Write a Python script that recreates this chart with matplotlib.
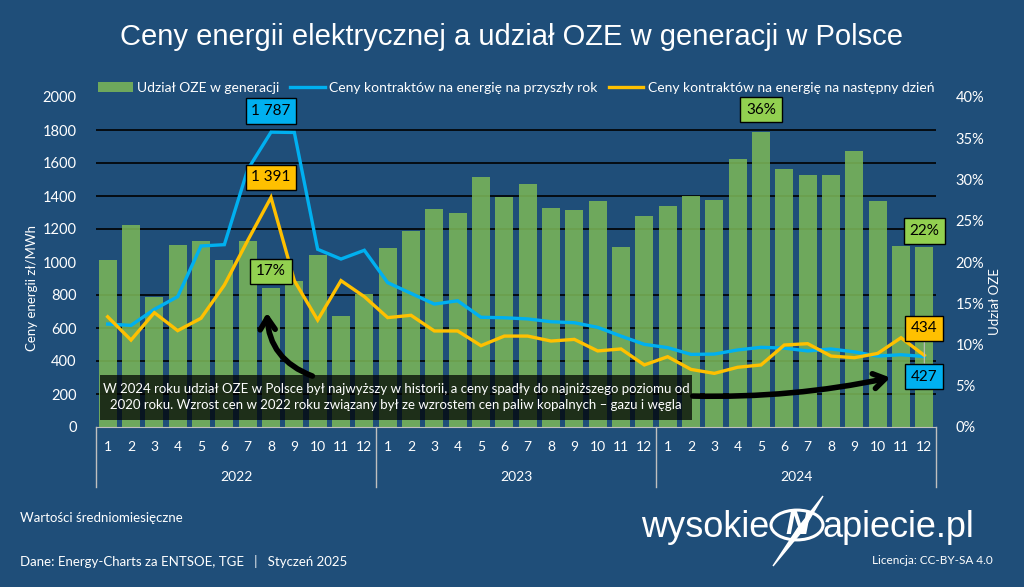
import matplotlib.pyplot as plt
import matplotlib.transforms as mtransforms
from matplotlib.patches import Rectangle, FancyArrowPatch, Circle, Polygon

years = ["2022", "2023", "2024"]
months = [str(m) for m in range(1, 13)] * 3

# udzial OZE w generacji [%]
oze_share = [20.2, 24.5, 15.7, 22.1, 22.6, 20.3, 22.6, 16.8, 17.7, 20.8, 13.5, 16.1,
             21.7, 23.8, 26.4, 26.0, 30.3, 27.9, 29.5, 26.5, 26.3, 27.4, 21.8, 25.6,
             26.8, 28.0, 27.5, 32.5, 35.8, 31.3, 30.6, 30.6, 33.4, 27.4, 22.0, 21.8]
# ceny kontraktow na przyszly rok [zl/MWh]
price_year_ahead = [624, 616, 713, 790, 1097, 1105, 1560, 1787, 1785, 1077, 1018, 1071,
                    875, 810, 745, 765, 665, 662, 655, 638, 632, 604, 551, 501,
                    481, 440, 442, 467, 483, 478, 461, 473, 455, 430, 438, 427]
# ceny kontraktow na nastepny dzien [zl/MWh]
price_day_ahead = [668, 527, 693, 584, 659, 860, 1130, 1391, 887, 648, 887, 790,
                   663, 677, 582, 582, 493, 551, 551, 521, 531, 461, 473, 376,
                   426, 349, 325, 362, 376, 497, 505, 430, 420, 446, 541, 434]

BG = "#1F4E79"
GREEN = "#7AB558"
BLUE = "#00B0F0"
YELLOW = "#FFC000"
LABEL_GREEN = "#92D050"
FONT = ["Lato", "DejaVu Sans"]

plt.rcParams["font.family"] = FONT

W, H = 1024, 587
fig = plt.figure(figsize=(W / 100, H / 100), dpi=100, facecolor=BG)


def fx(px):
    return px / W


def fy(py):
    return 1 - py / H


ax = fig.add_axes([fx(96), fy(427), 840 / W, 330 / H])
ax.set_facecolor(BG)
x = list(range(len(oze_share)))
ax.bar(x, oze_share, width=0.77, color=GREEN, alpha=0.88, zorder=2,
       label="Udział OZE w generacji")
ax.set_xlim(-0.5, len(x) - 0.5)
ax.set_ylim(0, 40)
# siatka co 200 zl/MWh = co 4 % (pod slupkami)
ax.set_yticks(range(0, 41, 4), minor=True)
ax.grid(axis="y", which="minor", color="black", linewidth=1.2)
ax.grid(axis="y", which="major", visible=False)
ax.tick_params(axis="y", which="minor", length=0)
ax.set_xticks(x)
ax.set_xticklabels(months)
ax.tick_params(axis="x", colors="white", labelsize=10, length=0, pad=10)
for s in ["top", "left", "right"]:
    ax.spines[s].set_visible(False)
ax.spines["bottom"].set_color("#BFBFBF")

# linie cen na drugiej osi (po lewej stronie)
axp = ax.twinx()
axp.yaxis.tick_left()
axp.set_ylim(0, 2000)
axp.set_yticks(range(0, 2001, 200))
axp.tick_params(axis="y", colors="white", labelsize=10.5, length=0, pad=14)
for s in axp.spines.values():
    s.set_visible(False)
axp.plot(x, price_year_ahead, color=BLUE, linewidth=2.4, solid_joinstyle="miter",
         label="Ceny kontraktów na energię na przyszły rok")
axp.plot(x, price_day_ahead, color=YELLOW, linewidth=2.4, solid_joinstyle="miter",
         label="Ceny kontraktów na energię na następny dzień")

# os procentowa po prawej (twinx przestawia ja na lewo, wiec ustawiamy po nim)
ax.yaxis.tick_right()
ax.set_yticks(range(0, 41, 5))
ax.set_yticklabels([f"{v}%" for v in range(0, 41, 5)])
ax.tick_params(axis="y", which="major", colors="white", labelsize=10.5, length=0, pad=14)

# separatory lat i etykiety lat
trans = mtransforms.blended_transform_factory(ax.transData, ax.transAxes)
for b in [-0.5, 11.5, 23.5, 35.5]:
    ax.plot([b, b], [0, -60 / 330], color="#BFBFBF", linewidth=1, transform=trans, clip_on=False)
for i, yr in enumerate(years):
    ax.text(i * 12 + 5.5, -50 / 330, yr, transform=trans, ha="center", va="center",
            color="white", fontsize=10)

# etykiety wartosci
box_kw = dict(boxstyle="square,pad=0.38", ec="black", lw=1)


def price_label(idx, series, txt, color, dy, leader=False):
    arrow = dict(arrowstyle="-", color="#BFBFBF", lw=0.8, shrinkA=0, shrinkB=0) if leader else None
    axp.annotate(txt, xy=(idx, series[idx]), xytext=(0, dy), textcoords="offset pixels",
                 ha="center", va="center", fontsize=11, color="black",
                 bbox=dict(box_kw, fc=color), arrowprops=arrow, zorder=6)


price_label(7, price_year_ahead, "1 787", BLUE, 21)
price_label(7, price_day_ahead, "1 391", YELLOW, 20)
price_label(35, price_day_ahead, "434", YELLOW, 27, leader=True)
price_label(35, price_year_ahead, "427", BLUE, -20, leader=True)

for idx, dy in [(7, 17), (28, 22), (35, 16)]:
    axp.annotate(f"{oze_share[idx]:.0f}%", xy=(idx, oze_share[idx] * 50), xytext=(0, dy),
                 textcoords="offset pixels", ha="center", va="center", fontsize=11,
                 color="black", bbox=dict(box_kw, fc=LABEL_GREEN), zorder=6)

# legenda
handles = ax.get_legend_handles_labels()[0] + axp.get_legend_handles_labels()[0]
fig.legend(handles=handles, loc="center", bbox_to_anchor=(fx(516), fy(88)), ncol=3,
           frameon=False, fontsize=10, labelcolor="white", handlelength=2.5,
           handletextpad=0.3, columnspacing=0.8)

# tytul
fig.text(0.5, fy(37), "Ceny energii elektrycznej a udział OZE w generacji w Polsce",
         ha="center", va="center", color="white", fontsize=21, family="Liberation Sans")

# opisy osi
fig.text(fx(32), fy(288), "Ceny energii zł/MWh", rotation=90, ha="center", va="center",
         color="white", fontsize=9.5)
fig.text(fx(995), fy(302), "Udział OZE", rotation=90, ha="center", va="center",
         color="white", fontsize=9.5)

# ramka z komentarzem
fig.patches.append(Rectangle((fx(100), fy(420)), fx(592), 45 / H, transform=fig.transFigure,
                             fc="black", alpha=0.72, ec="none", zorder=5))
fig.text(fx(396), fy(397), "W 2024 roku udział OZE w Polsce był najwyższy w historii, a ceny spadły do najniższego poziomu od\n"
         "2020 roku. Wzrost cen w 2022 roku związany był ze wzrostem cen paliw kopalnych – gazu i węgla",
         ha="center", va="center", color="white", fontsize=9.5, linespacing=1.45, zorder=6)

# strzalki
arrow_kw = dict(arrowstyle="->,head_length=0.7,head_width=0.45", color="black", lw=4,
                transform=fig.transFigure, zorder=7, mutation_scale=12)
fig.patches.append(FancyArrowPatch((fx(315), fy(377)), (fx(267), fy(310)),
                                   connectionstyle="arc3,rad=-0.35", **arrow_kw))
fig.patches.append(FancyArrowPatch((fx(690), fy(396)), (fx(893), fy(377)),
                                   connectionstyle="arc3,rad=0.06", **arrow_kw))

# stopka
fig.text(fx(20), fy(518), "Wartości średniomiesięczne", ha="left", va="center",
         color="white", fontsize=9.5)
fig.text(fx(20), fy(562), "Dane: Energy-Charts za ENTSOE, TGE   |   Styczeń 2025", ha="left",
         va="center", color="white", fontsize=9.5)
fig.text(fx(993), fy(560), "Licencja: CC-BY-SA 4.0", ha="right", va="center",
         color="white", fontsize=8.5)

# logo
logo_font = ["Liberation Sans Narrow", "Liberation Sans", "DejaVu Sans"]
fig.text(fx(769), fy(537), "wysokie", ha="right", va="baseline", color="white",
         fontsize=26, family=logo_font)
fig.text(fx(823), fy(537), "apiecie.pl", ha="left", va="baseline", color="white",
         fontsize=26, family=logo_font)
fig.patches.append(Circle((fx(797), fy(525)), 26 / W, transform=fig.transFigure,
                          fill=False, ec="white", lw=2.2))
fig.text(fx(797), fy(525), "N", ha="center", va="center", color="white", fontsize=24,
         fontweight="bold", style="italic", family=logo_font)
fig.patches.append(Polygon([(fx(823), fy(496)), (fx(803), fy(530)), (fx(773), fy(566)),
                            (fx(798), fy(528))], closed=True, transform=fig.transFigure,
                           fc="white", ec="white", lw=1))

fig.savefig("out.png", dpi=100, facecolor=BG)
